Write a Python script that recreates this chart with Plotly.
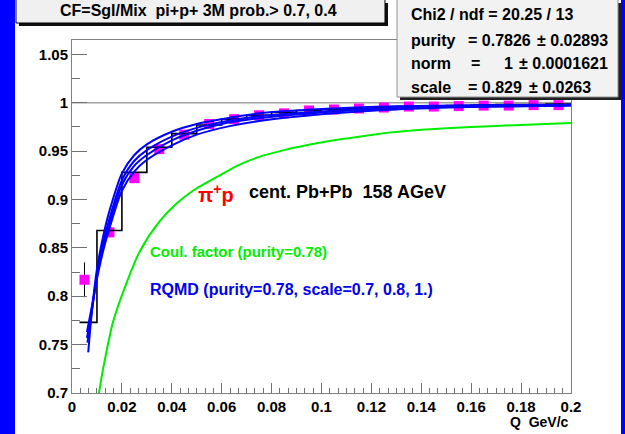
import plotly.graph_objects as go

# ---------------- data ----------------
q_pts = [0.005, 0.015, 0.025, 0.035, 0.045, 0.055, 0.065, 0.075, 0.085, 0.095,
         0.105, 0.115, 0.125, 0.135, 0.145, 0.155, 0.165, 0.175, 0.185, 0.195]
cf_pts = [0.817, 0.866, 0.922, 0.952, 0.967, 0.978, 0.983, 0.987, 0.989, 0.992,
          0.993, 0.994, 0.995, 0.996, 0.996, 0.9965, 0.997, 0.997, 0.9975, 0.9975]
cf_err = [0.018, 0.005, 0.004, 0.003, 0.003, 0.002, 0.002, 0.002, 0.002, 0.002,
          0.002, 0.002, 0.002, 0.002, 0.002, 0.002, 0.002, 0.002, 0.002, 0.002]

hist_edges = [0.003, 0.01, 0.02, 0.03, 0.04, 0.05, 0.06, 0.07, 0.08, 0.09, 0.10,
              0.11, 0.12, 0.13, 0.14, 0.15, 0.16, 0.17, 0.18, 0.19, 0.20]
hist_vals = [0.773, 0.868, 0.928, 0.954, 0.968, 0.977, 0.983, 0.987, 0.990, 0.992,
             0.993, 0.994, 0.995, 0.996, 0.9965, 0.997, 0.9975, 0.998, 0.998, 0.9985]

coul_q = [0.0108, 0.0124, 0.0164, 0.0219, 0.0271, 0.035, 0.042, 0.0485, 0.0593, 0.0672,
          0.075, 0.085, 0.098, 0.11, 0.1234, 0.14, 0.16, 0.18, 0.20]
coul_v = [0.700, 0.724, 0.773, 0.814, 0.846, 0.877, 0.896, 0.909, 0.925, 0.936,
          0.944, 0.951, 0.958, 0.963, 0.968, 0.972, 0.975, 0.977, 0.979]

rq_q = [[0.0065, 0.008, 0.01, 0.0125, 0.015, 0.02, 0.025, 0.03, 0.04, 0.05, 0.06, 0.075, 0.10, 0.13, 0.16, 0.20],
        [0.0062, 0.008, 0.01, 0.0125, 0.015, 0.02, 0.025, 0.03, 0.04, 0.05, 0.06, 0.075, 0.10, 0.13, 0.16, 0.20],
        [0.0060, 0.008, 0.01, 0.0125, 0.015, 0.02, 0.025, 0.03, 0.04, 0.05, 0.06, 0.075, 0.10, 0.13, 0.16, 0.20],
        [0.0060, 0.008, 0.01, 0.0125, 0.015, 0.02, 0.025, 0.03, 0.04, 0.05, 0.06, 0.075, 0.10, 0.13, 0.16, 0.20]]
rq_v = [[0.742, 0.785, 0.828, 0.862, 0.888, 0.927, 0.946, 0.957, 0.970, 0.978, 0.983, 0.989, 0.9935, 0.9963, 0.9973, 0.998],
        [0.752, 0.785, 0.822, 0.855, 0.880, 0.920, 0.940, 0.951, 0.965, 0.974, 0.980, 0.986, 0.991, 0.9948, 0.9965, 0.9975],
        [0.763, 0.790, 0.818, 0.847, 0.870, 0.909, 0.929, 0.941, 0.956, 0.967, 0.974, 0.981, 0.988, 0.993, 0.9955, 0.997],
        [0.757, 0.787, 0.820, 0.851, 0.875, 0.915, 0.935, 0.946, 0.961, 0.971, 0.978, 0.984, 0.990, 0.994, 0.996, 0.9972]]

title_text = "CF=Sgl/Mix  pi+p+ 3M prob.> 0.7, 0.4"

# ---------------- layout geometry (pixels) ----------------
W, H = 625, 434
L, R, T, B = 72, 571, 40, 393
def px(p):
    return (p - L) / (R - L)
def py(p):
    return (B - p) / (B - T)

FONT = "Liberation Sans Narrow, Liberation Sans, Arial, sans-serif"

fig = go.Figure()

# data points
fig.add_trace(go.Scatter(
    x=q_pts, y=cf_pts, mode="markers",
    marker=dict(symbol="square", size=10, color="#ff00ff"),
    error_y=dict(type="data", array=cf_err, color="black", thickness=1, width=0),
    showlegend=False, hoverinfo="skip"))

# histogram (fit)
hx = hist_edges
hy = hist_vals + [hist_vals[-1]]
fig.add_trace(go.Scatter(x=hx, y=hy, mode="lines", line=dict(color="black", width=1.6, shape="hv"),
                         showlegend=False, hoverinfo="skip"))

# RQMD curves
for qq, vv in zip(rq_q, rq_v):
    fig.add_trace(go.Scatter(x=qq, y=vv, mode="lines",
                             line=dict(color="#0000ff", width=2, shape="spline", smoothing=0.8),
                             showlegend=False, hoverinfo="skip"))

# Coulomb factor
fig.add_trace(go.Scatter(x=coul_q, y=coul_v, mode="lines",
                         line=dict(color="#00ee00", width=2, shape="spline", smoothing=0.8),
                         showlegend=False, hoverinfo="skip"))

shapes = []
# blue canvas strips
shapes.append(dict(type="rect", xref="paper", yref="paper", x0=px(-5), x1=px(15), y0=py(-5), y1=py(440),
                   fillcolor="#0000ff", line=dict(width=0), layer="below"))
shapes.append(dict(type="rect", xref="paper", yref="paper", x0=px(621), x1=px(630), y0=py(-5), y1=py(440),
                   fillcolor="#0000ff", line=dict(width=0), layer="below"))
# line at 1
shapes.append(dict(type="line", xref="paper", yref="y", x0=0, x1=1, y0=1, y1=1,
                   line=dict(color="#a0a0a0", width=1.5), layer="below"))
# title box with shadow
shapes.append(dict(type="rect", xref="paper", yref="paper", x0=px(19), x1=px(388), y0=py(26), y1=py(3),
                   fillcolor="#101010", line=dict(width=0), layer="above"))
shapes.append(dict(type="rect", xref="paper", yref="paper", x0=px(16), x1=px(385), y0=py(23), y1=py(-2),
                   fillcolor="#f0f0f0", line=dict(color="black", width=1), layer="above"))
# stats box with shadow
shapes.append(dict(type="rect", xref="paper", yref="paper", x0=px(400), x1=px(621), y0=py(100), y1=py(3),
                   fillcolor="#202020", line=dict(width=0), layer="above"))
shapes.append(dict(type="rect", xref="paper", yref="paper", x0=px(397), x1=px(618), y0=py(97), y1=py(-2),
                   fillcolor="#f2f2f2", line=dict(color="#909090", width=1), layer="above"))

ann = []
def txt(s, x, y, size, color="black", xanchor="left", bold=True):
    ann.append(dict(text=s, xref="paper", yref="paper", x=px(x), y=py(y), xanchor=xanchor, yanchor="middle",
                    showarrow=False, font=dict(family=FONT, size=size, color=color,
                                               weight="bold" if bold else "normal")))

txt(title_text, 198, 11, 16, xanchor="center")
txt("Chi2 / ndf = 20.25 / 13", 409, 15, 16)
txt("purity", 409, 40, 16)
txt("= 0.7826", 466, 40, 16)
txt("± 0.02893", 535, 40, 16)
txt("norm", 409, 63, 16)
txt("=", 469, 63, 16)
txt("1", 502, 63, 16)
txt("± 0.0001621", 517, 63, 16)
txt("scale", 409, 88, 16)
txt("= 0.829", 466, 88, 16)
txt("± 0.0263", 527, 88, 16)

txt("π<sup>+</sup>p", 196, 193, 20, color="#ff0000")
txt("cent. Pb+Pb  158 AGeV", 247, 192, 18)
txt("Coul. factor (purity=0.78)", 148, 252, 15, color="#00ee00")
txt("RQMD (purity=0.78, scale=0.7, 0.8, 1.)", 148, 289, 16, color="#0000ee")
txt("Q  GeV/c", 571, 422, 14, xanchor="right")

fig.update_layout(
    width=W, height=H,
    margin=dict(l=L, r=W - R, t=T, b=H - B, pad=0),
    paper_bgcolor="white", plot_bgcolor="white",
    shapes=shapes, annotations=ann,
    showlegend=False,
)
fig.update_xaxes(range=[0, 0.2], dtick=0.02, tick0=0, ticks="inside", ticklen=10, tickcolor="#707070",
                 tickwidth=1, showline=True, linecolor="#808080", linewidth=1, mirror=True,
                 showgrid=False, zeroline=False,
                 tickfont=dict(family=FONT, size=15, color="black", weight="bold"),
                 minor=dict(dtick=0.02 / 6, tick0=0, ticks="inside", ticklen=5, tickcolor="#707070", tickwidth=1))
fig.update_yaxes(range=[0.7, 1.0648], dtick=0.05, tick0=0.7, ticks="inside", ticklen=15, tickcolor="#707070",
                 tickwidth=1, showline=True, linecolor="#808080", linewidth=1, mirror=True,
                 showgrid=False, zeroline=False,
                 tickfont=dict(family=FONT, size=15, color="black", weight="bold"),
                 minor=dict(dtick=0.025, tick0=0.7, ticks="inside", ticklen=7.5, tickcolor="#707070", tickwidth=1))

fig.write_html("out.html")
